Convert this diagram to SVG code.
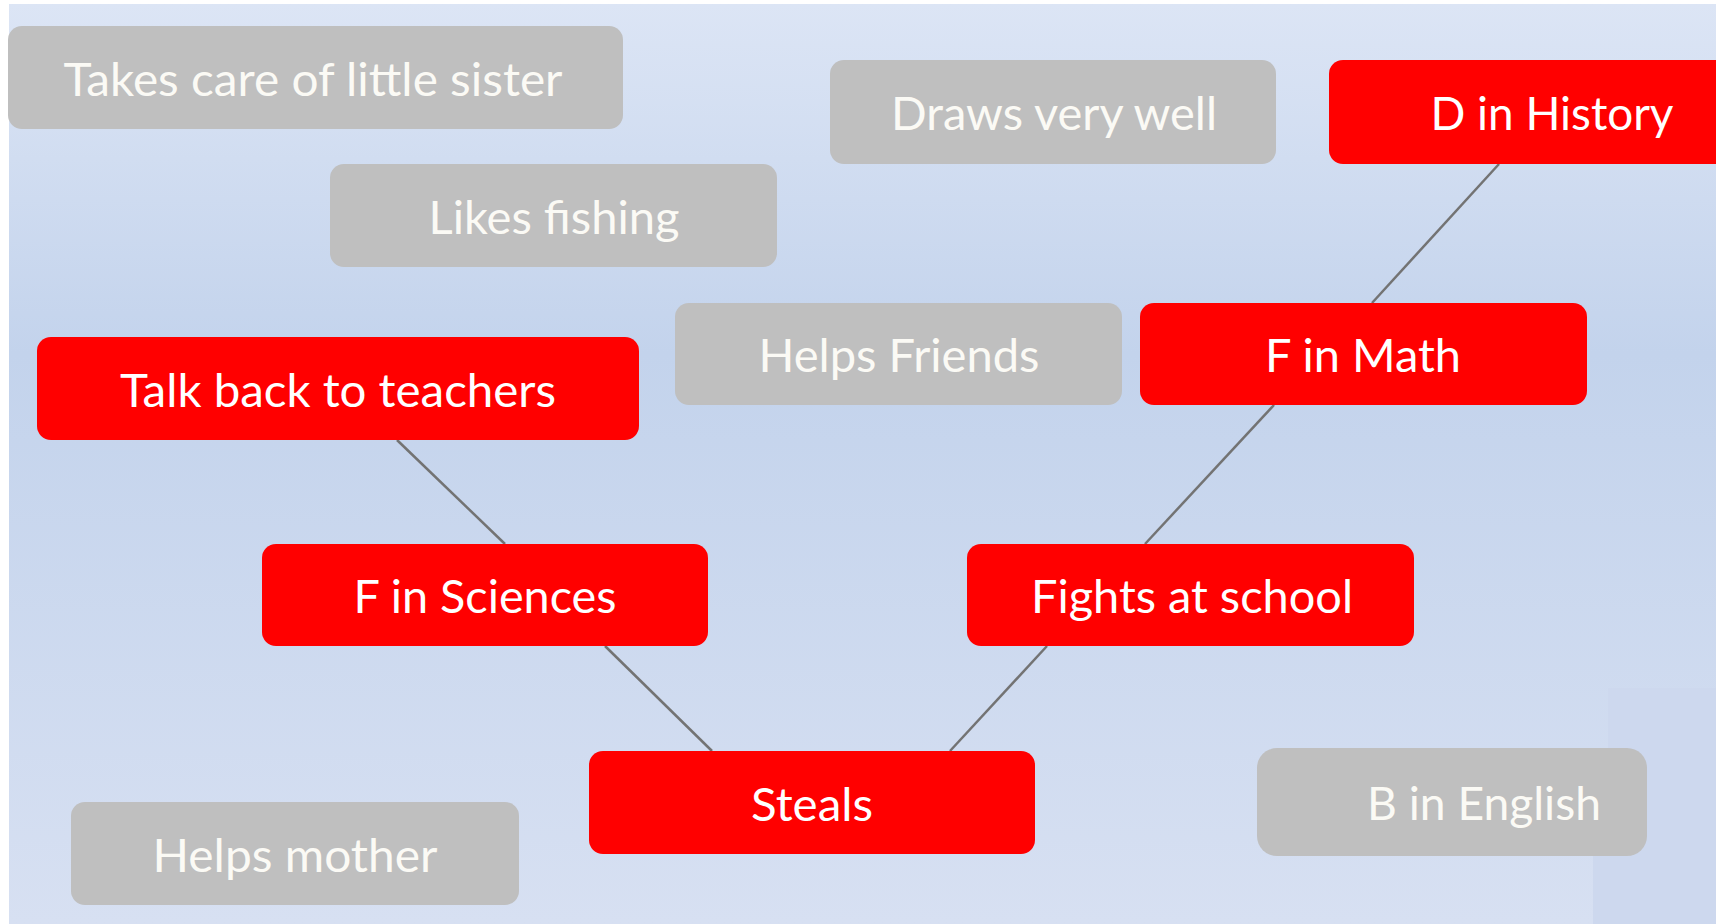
<svg xmlns="http://www.w3.org/2000/svg" width="1716" height="924" viewBox="0 0 1716 924">
  <defs>
    <linearGradient id="bg" x1="0" y1="0" x2="0" y2="1">
      <stop offset="0" stop-color="#dce5f5"/>
      <stop offset="0.38" stop-color="#c3d3ec"/>
      <stop offset="1" stop-color="#d7e0f2"/>
    </linearGradient>
    <style>
      .red rect { fill: #ff0000; }
      .gray rect { fill: #bfbfbf; }
      text { font-family: Lato, "Open Sans", "Liberation Sans", sans-serif; font-size: 47px; text-anchor: middle; }
      .red text { fill: #ffffff; }
      .gray text { fill: #fbfaf5; }
      #connectors line { stroke: #737373; stroke-width: 2.5; }
    </style>
  </defs>
  <rect x="0" y="0" width="1716" height="924" fill="#ffffff"/>
  <rect x="9" y="4" width="1707" height="920" fill="url(#bg)"/>
  <path d="M1608,688 H1716 V924 H1593 V855 H1608 Z" fill="#cdd8ee"/>

  <g id="connectors">
    <line x1="397" y1="440" x2="505" y2="544"/>
    <line x1="605" y1="646" x2="712" y2="751"/>
    <line x1="950" y1="751" x2="1047" y2="646"/>
    <line x1="1145" y1="544" x2="1274" y2="405"/>
    <line x1="1372" y1="303" x2="1499" y2="164"/>
  </g>

  <g id="takes-care" class="gray">
    <rect x="8" y="26" width="615" height="103" rx="14"/>
    <text x="313" y="96" textLength="499" lengthAdjust="spacingAndGlyphs">Takes care of little sister</text>
  </g>
  <g id="draws" class="gray">
    <rect x="830" y="60" width="446" height="104" rx="14"/>
    <text x="1054" y="130" textLength="326" lengthAdjust="spacingAndGlyphs">Draws very well</text>
  </g>
  <g id="d-history" class="red">
    <rect x="1329" y="60" width="420" height="104" rx="14"/>
    <text x="1552" y="130" textLength="243" lengthAdjust="spacingAndGlyphs">D in History</text>
  </g>
  <g id="likes-fishing" class="gray">
    <rect x="330" y="164" width="447" height="103" rx="14"/>
    <text x="554" y="234" textLength="251" lengthAdjust="spacingAndGlyphs">Likes fishing</text>
  </g>
  <g id="helps-friends" class="gray">
    <rect x="675" y="303" width="447" height="102" rx="14"/>
    <text x="899" y="372" textLength="281" lengthAdjust="spacingAndGlyphs">Helps Friends</text>
  </g>
  <g id="f-math" class="red">
    <rect x="1140" y="303" width="447" height="102" rx="14"/>
    <text x="1363" y="372" textLength="196" lengthAdjust="spacingAndGlyphs">F in Math</text>
  </g>
  <g id="talk-back" class="red">
    <rect x="37" y="337" width="602" height="103" rx="14"/>
    <text x="338" y="407" textLength="436" lengthAdjust="spacingAndGlyphs">Talk back to teachers</text>
  </g>
  <g id="f-sciences" class="red">
    <rect x="262" y="544" width="446" height="102" rx="14"/>
    <text x="485" y="613" textLength="263" lengthAdjust="spacingAndGlyphs">F in Sciences</text>
  </g>
  <g id="fights" class="red">
    <rect x="967" y="544" width="447" height="102" rx="14"/>
    <text x="1192" y="613" textLength="322" lengthAdjust="spacingAndGlyphs">Fights at school</text>
  </g>
  <g id="steals" class="red">
    <rect x="589" y="751" width="446" height="103" rx="14"/>
    <text x="812" y="821" textLength="122" lengthAdjust="spacingAndGlyphs">Steals</text>
  </g>
  <g id="helps-mother" class="gray">
    <rect x="71" y="802" width="448" height="103" rx="14"/>
    <text x="295" y="872" textLength="285" lengthAdjust="spacingAndGlyphs">Helps mother</text>
  </g>
  <g id="b-english" class="gray">
    <rect x="1257" y="748" width="390" height="108" rx="20"/>
    <text x="1484" y="820" textLength="234" lengthAdjust="spacingAndGlyphs">B in English</text>
  </g>
</svg>
